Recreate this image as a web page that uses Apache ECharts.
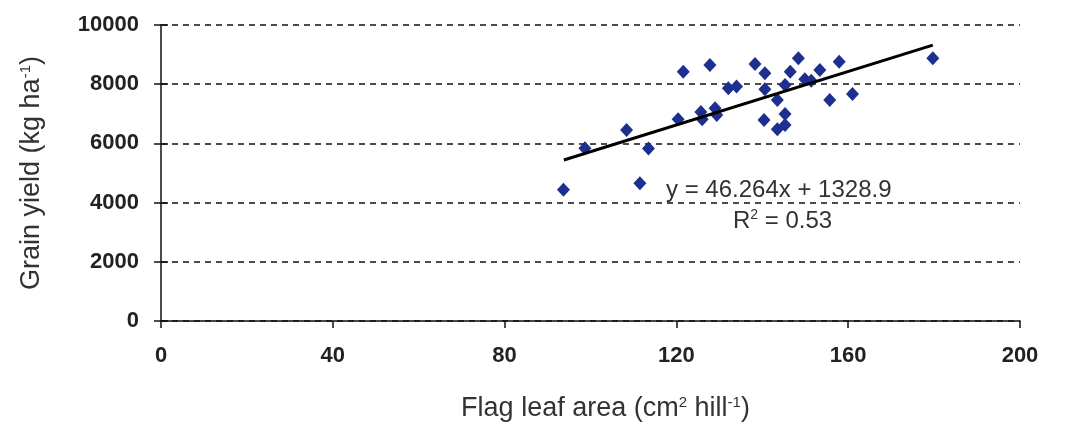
<!DOCTYPE html>
<html>
<head>
<meta charset="utf-8">
<script src="https://cdn.jsdelivr.net/npm/echarts@6/dist/echarts.min.js"></script>
<style>
html,body{margin:0;padding:0;background:#fff;}
#chart{width:1069px;height:428px;}
</style>
</head>
<body>
<div id="chart"></div>
<script>
// Flag leaf area (cm2 hill-1)
const leafArea = [93.7, 98.7, 108.4, 111.5, 113.5, 120.4, 121.6, 125.7, 126.0, 127.8,
  129.0, 129.4, 132.1, 134.0, 138.3, 140.6, 140.4, 140.6, 143.5, 143.5,
  145.3, 145.3, 145.3, 146.5, 148.4, 149.9, 151.4, 153.4, 157.9, 155.7,
  161.0, 179.7];
// Grain yield (kg ha-1)
const grainYield = [4430, 5840, 6450, 4650, 5830, 6820, 8420, 7060, 6820, 8650,
  7190, 6960, 7860, 7920, 8680, 8370, 6790, 7830, 7470, 6480,
  6990, 6620, 7970, 8420, 8880, 8170, 8120, 8480, 8760, 7470,
  7670, 8880];
// Linear trend line end points (as drawn)
const trendX = [93.8, 179.7];
const trendY = [5440, 9320];
const xTicks = [0, 40, 80, 120, 160, 200];
const yTicks = [0, 2000, 4000, 6000, 8000, 10000];
const equationText = 'y = 46.264x + 1328.9';
const r2Text = 'R{sup|2} = 0.53';

const FONT = '"Liberation Sans", Arial, sans-serif';
const chart = echarts.init(document.getElementById('chart'));
const points = leafArea.map((x, i) => [x, grainYield[i]]);
const trend = trendX.map((x, i) => [x, trendY[i]]);

const commonY = {
  type: 'value', min: yTicks[0], max: yTicks[yTicks.length - 1], interval: 2000
};
const supStyle = { fontFamily: FONT, fontSize: 15, color: '#333', padding: [0, 0, 12, 0] };

chart.setOption({
  backgroundColor: '#ffffff',
  animation: false,
  grid: { left: 161, right: 49, top: 25, bottom: 107 },
  xAxis: {
    type: 'value', min: xTicks[0], max: xTicks[xTicks.length - 1], interval: 40,
    name: 'Flag leaf area (cm{sup|2} hill{sup|-1})',
    nameLocation: 'middle', nameGap: 74,
    nameTextStyle: {
      fontFamily: FONT, fontSize: 27, color: '#333', padding: [0, 0, 0, 30],
      rich: { sup: supStyle }
    },
    axisLine: { lineStyle: { color: '#111', width: 1.5 } },
    axisTick: { show: true, length: 7, lineStyle: { color: '#111', width: 1.5 } },
    axisLabel: { margin: 24, fontFamily: FONT, fontSize: 22, fontWeight: 'bold', color: '#222',
      formatter: v => String(v) },
    splitLine: { show: false }
  },
  yAxis: [Object.assign({}, commonY, {
    name: 'Grain yield (kg ha{sup|-1})',
    nameLocation: 'middle', nameGap: 116,
    nameTextStyle: {
      fontFamily: FONT, fontSize: 27, color: '#333',
      rich: { sup: supStyle }
    },
    axisLine: { show: true, lineStyle: { color: '#111', width: 1.5 } },
    axisTick: { show: true, length: 7, lineStyle: { color: '#111', width: 1.5 } },
    axisLabel: { margin: 22, fontFamily: FONT, fontSize: 22, fontWeight: 'bold', color: '#222',
      formatter: v => String(v) },
    splitLine: { show: true, lineStyle: { color: '#111', type: [6, 5], width: 1.5 } }
  }), Object.assign({}, commonY, {
    position: 'left',
    axisLine: { show: false },
    axisTick: { show: true, inside: true, length: 7, lineStyle: { color: '#111', width: 1.5 } },
    axisLabel: { show: false },
    splitLine: { show: false }
  })],
  series: [
    {
      type: 'scatter', data: points, symbol: 'diamond', symbolSize: [13, 14],
      itemStyle: { color: '#1d2f8f', opacity: 1 }, z: 3
    },
    {
      type: 'line', data: trend, symbol: 'none', z: 4,
      lineStyle: { color: '#000', width: 3 }
    }
  ],
  graphic: [
    {
      type: 'text', left: 666, top: 178,
      style: { text: equationText, fontFamily: FONT, fontSize: 24, fill: '#333' }
    },
    {
      type: 'text', left: 733, top: 208,
      style: {
        text: r2Text, fontFamily: FONT, fontSize: 24, fill: '#333',
        rich: { sup: { fontFamily: FONT, fontSize: 14, fill: '#333', padding: [0, 0, 12, 0] } }
      }
    }
  ]
});
</script>
</body>
</html>
